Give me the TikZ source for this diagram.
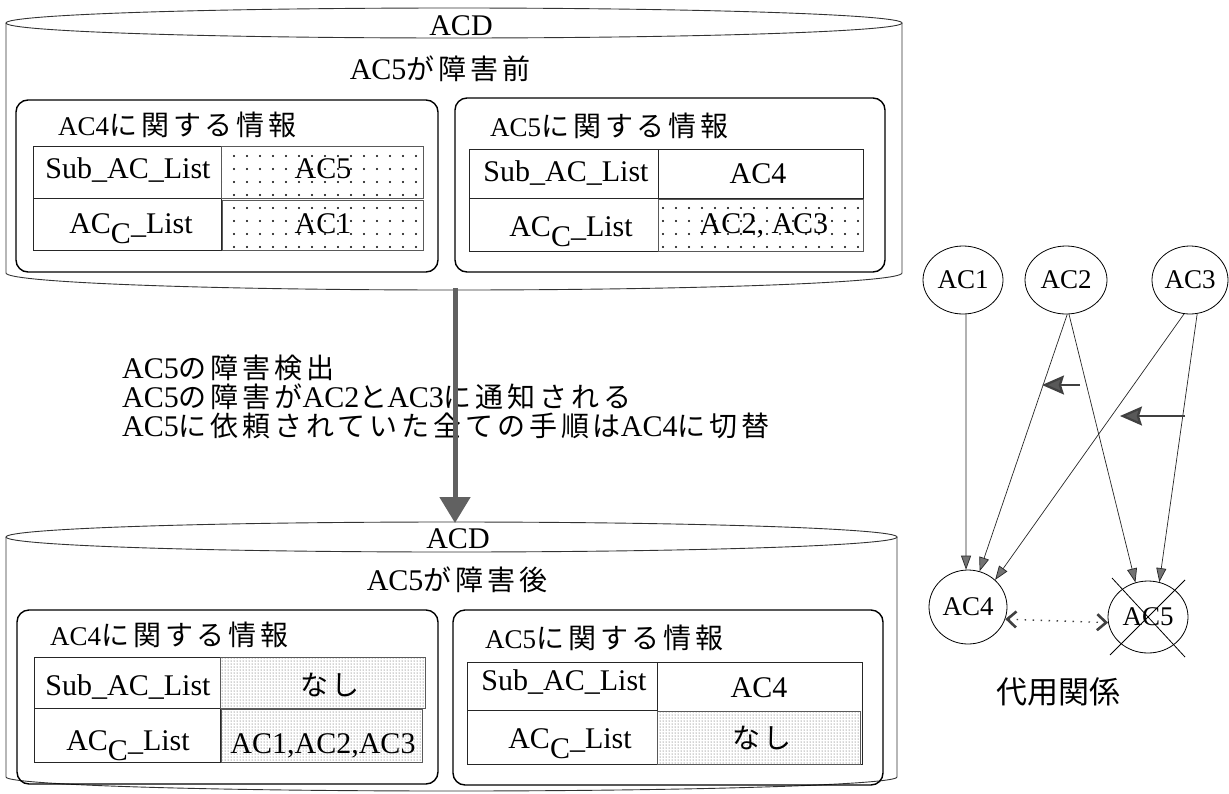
\documentclass[tikz,border=0pt]{standalone}
\usepackage{fontspec}
\setmainfont{Liberation Serif}
\newfontfamily\jpfont{Noto Sans CJK JP}[LetterSpace=14]
\newfontfamily\jpplain{Noto Sans CJK JP}
\usetikzlibrary{arrows.meta, shapes.geometric, patterns}

\newcommand{\jp}[1]{{\fontsize{28}{32}\selectfont\jpfont #1}}
\newcommand{\sublist}{Sub\textunderscore AC\textunderscore List}
\newcommand{\cclist}{AC\raisebox{-10pt}{C}\textunderscore List}

\pgfdeclarepatternformonly{sparsedots}{\pgfpoint{-1.5pt}{-1.5pt}}{\pgfpoint{1.5pt}{1.5pt}}{\pgfpoint{13pt}{13pt}}%
  {\pgfpathcircle{\pgfpointorigin}{1.1pt}\pgfusepath{fill}}

\tikzset{
  txt/.style={inner sep=0pt, anchor=base, font=\fontsize{30}{34}\selectfont},
  stepline/.style={txt, anchor=base west, text height=21pt, text depth=4pt},
  ttl/.style={inner sep=0pt, anchor=base west, font=\fontsize{27}{30}\selectfont},
  store/.style={line width=0.9pt, draw=black!80},
  infobox/.style={draw, line width=1.4pt, rounded corners=12pt},
  cell/.style={draw=black!85, line width=0.9pt},
  oldcell/.style={cell, draw=black!65, pattern=sparsedots, pattern color=black},
  newcell/.style={cell, draw=black!65, pattern=dots, pattern color=black!75},
  acnode/.style={ellipse, draw, line width=0.8pt, inner sep=0pt, minimum width=80pt, minimum height=68pt, font=\fontsize{27}{30}\selectfont},
  subarrow/.style={line width=0.7pt, draw=black!85, -{Triangle[length=14pt,width=10pt,fill=black!55]}},
  notify/.style={line width=2.2pt, draw=black!75, -{Stealth[length=22pt,width=19pt,inset=3pt,fill=black!65]}},
  bigarrow/.style={line width=5pt, draw=black!62, -{Triangle[length=26pt,width=30pt]}},
  substline/.style={line width=1.4pt, draw=black!75, dash pattern=on 1.5pt off 6.5pt,
    {Straight Barb[length=9pt,width=16pt,line width=2.6pt]}-{Straight Barb[length=9pt,width=16pt,line width=2.6pt]}},
}

\begin{document}
\begin{tikzpicture}[x=1pt, y=-1pt]
  \useasboundingbox (0,0) rectangle (1229,793);

  % Upper ACD store
  \draw[store] (6,23) -- (6,273) arc[start angle=180, end angle=0, x radius=448, y radius=17] -- (902,23);
  \draw[store] (454,23) ellipse[x radius=448, y radius=15];
  \node[txt] (acdtop) at (461,35) {ACD};
  \node[txt] (before) at (440,79) {AC5\jp{が障害前}};

  % AC4 info (before)
  \draw[infobox] (16,100) rectangle (438,272);
  \node[ttl] (infoA) at (58,135) {AC4\jp{に関する情報}};
  \draw[cell] (33,146) rectangle (221,250);
  \draw[cell] (33,198) -- (221,198);
  \draw[oldcell] (221,146) rectangle (423,198);
  \draw[oldcell] (222,200) rectangle (423,250);
  \node[txt] (subA) at (128,178) {\sublist};
  \node[txt] (ccA) at (131,233) {\cclist};
  \node[txt] (subAval) at (323,178) {AC5};
  \node[txt] (ccAval) at (323,233) {AC1};

  % AC5 info (before)
  \draw[infobox] (455,98) rectangle (885,272);
  \node[ttl] (infoB) at (490,136) {AC5\jp{に関する情報}};
  \draw[cell] (469,149) rectangle (863,251);
  \draw[cell] (469,198) -- (863,198);
  \draw[cell] (658,149) -- (658,251);
  \draw[oldcell] (658,199) rectangle (863,251);
  \node[txt] (subB) at (566,181) {\sublist};
  \node[txt] (ccB) at (571,236) {\cclist};
  \node[txt] (subBval) at (758,183) {AC4};
  \node[txt] (ccBval) at (764,233) {AC2, AC3};

  % What happens on failure
  \node[stepline] (step1) at (122,378) {AC5\jp{の障害検出}};
  \node[stepline] (step2) at (122,407) {AC5\jp{の障害が}AC2\jp{と}AC3\jp{に通知される}};
  \node[stepline] (step3) at (122,436) {AC5\jp{に依頼されていた全ての手順は}AC4\jp{に切替}};

  % Lower ACD store
  \draw[store] (6,537) -- (6,777) arc[start angle=180, end angle=0, x radius=445.5, y radius=14] -- (897,537);
  \draw[store] (451.5,537) ellipse[x radius=445.5, y radius=15];
  \node[txt] (acdbot) at (458,548) {ACD};
  \node[txt] (after) at (457,590) {AC5\jp{が障害後}};

  % transition between the two states
  \coordinate (leave) at (455,288);
  \coordinate (enter) at (455,523);
  \draw[bigarrow] (leave) -- (enter);

  % AC4 info (after)
  \draw[infobox] (17,610) rectangle (438,784);
  \node[ttl] (infoC) at (50,645) {AC4\jp{に関する情報}};
  \draw[cell] (34,657) rectangle (220,762);
  \draw[cell] (34,708) -- (220,708);
  \draw[newcell] (220,657) rectangle (425,708);
  \draw[newcell] (221,709) rectangle (422,762);
  \node[txt] (subC) at (128,695) {\sublist};
  \node[txt] (ccC) at (128,750) {\cclist};
  \node[txt] (subCval) at (330,695) {\jp{なし}};
  \node[txt] (ccCval) at (323,753) {AC1,AC2,AC3};

  % AC5 info (after)
  \draw[infobox] (453,610) rectangle (883,785);
  \node[ttl] (infoD) at (485,648) {AC5\jp{に関する情報}};
  \draw[cell] (467,662) rectangle (862,764);
  \draw[cell] (467,710) -- (657,710);
  \draw[cell] (657,662) -- (657,764);
  \draw[newcell] (657,711) rectangle (860,764);
  \node[txt] (subD) at (564,690) {\sublist};
  \node[txt] (ccD) at (570,748) {\cclist};
  \node[txt] (subDval) at (759,697) {AC4};
  \node[txt] (ccDval) at (762,748) {\jp{なし}};

  % Substitution graph
  \node[acnode] (AC1) at (963,280) {AC1};
  \node[acnode, minimum width=82pt] (AC2) at (1066,280) {AC2};
  \node[acnode, minimum width=76pt] (AC3) at (1190,280) {AC3};
  \node[acnode, minimum width=78pt, minimum height=74pt] (AC4) at (968,607) {AC4};
  \node[acnode, minimum height=72pt] (AC5) at (1148,617) {AC5};

  \draw[subarrow] (AC1.-85) -- (AC4.93);
  \draw[subarrow] (AC2.-88) -- (AC4.72);
  \draw[subarrow] (AC2.-85) -- (AC5.110);
  \draw[subarrow] (AC3.-100) -- (AC4.45);
  \draw[subarrow] (AC3.-78) -- (AC5.72);

  % switch-over of AC2 and AC3
  \coordinate (swA) at (1080,385);
  \coordinate (swAend) at (1042,385);
  \coordinate (swB) at (1185,416);
  \coordinate (swBend) at (1120,416);
  \draw[notify] (swA) -- (swAend);
  \draw[notify] (swB) -- (swBend);

  % AC5 is down
  \draw[line width=0.8pt] (AC5.center) ++(-38,38) -- ++(75,-75);
  \draw[line width=0.8pt] (AC5.center) ++(-36,-39) -- ++(73,79);

  \draw[substline] (AC4.-18) -- (AC5.188);
  \node[inner sep=0pt, font=\fontsize{31}{34}\selectfont\jpplain] (substlbl) at (1058,692) {代用関係};
\end{tikzpicture}
\end{document}
